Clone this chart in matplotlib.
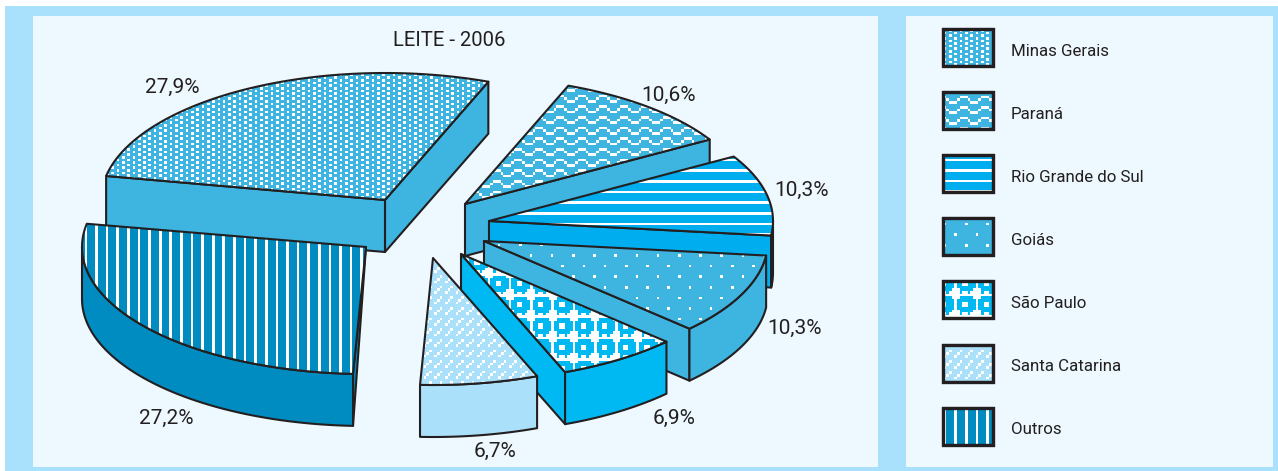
#!/usr/bin/env python3
"""Leite 2006: exploded pseudo-3D pie with pixel pattern fills, drawn in figure pixels."""

import numpy as np
import matplotlib
matplotlib.use("Agg")
import matplotlib.pyplot as plt
from matplotlib.colors import to_rgb
from matplotlib.patches import Polygon, Rectangle

STATES = ["Minas Gerais", "Paraná", "Rio Grande do Sul", "Goiás",
          "São Paulo", "Santa Catarina", "Outros"]
SHARES = [27.9, 10.6, 10.3, 10.3, 6.9, 6.7, 27.2]
SHARE_LABELS = ["27,9%", "10,6%", "10,3%", "10,3%", "6,9%", "6,7%", "27,2%"]
TITLE = "LEITE - 2006"

COLORS = ["#3db5e0", "#3db5e0", "#00aeef", "#3db5e0", "#00b9f2", "#abe0fa", "#008cc0"]
INK = "#231f20"
FRAME = "#a9e0fb"
PANEL = "#edf9fe"

# pie geometry, figure pixels
CENTER = (440, 240)
RX, RY = 284, 127
DEPTH = 52
START_ANGLE = 169.1
EXPLODE = [(-55, -40), (25, -36), (49, -19), (44, 1), (21, 14), (-7, 18), (-74, 7)]
LABEL_POS = [(172, 87), (669, 95), (802, 190), (795, 328), (674, 418), (495, 451), (166, 418)]
DRAW_ORDER = [0, 6, 1, 2, 3, 4, 5]

CELL = 2.65
# "#" marks the pale cell of each pattern tile
TILES = [
    ["#...",
     "..#.",
     "#...",
     "..#."],
    ["..###...",
     ".#...#..",
     "#.....##",
     "........"],
    ["#", ".", ".", "."],
    ["#.......",
     "........",
     "........",
     "........",
     "....#...",
     "........",
     "........",
     "........"],
    ["##.....#",
     "#.......",
     "#..##...",
     "#..##...",
     "#.......",
     "##.....#",
     "##.##.##",
     "########"],
    ["..#.",
     ".#..",
     "#...",
     "...."],
    ["#...", ],
]


def pattern_fill(pa, points, tile, color):
    """Fill a polygon with a repeated tile, anchored to the figure origin."""
    poly = Polygon(points, closed=True, facecolor="none", edgecolor=INK, linewidth=1.5,
                   joinstyle="round", zorder=pa.next_z())
    pa.ax.add_patch(poly)
    xs, ys = zip(*points)
    mask = np.array([[c == "#" for c in row] for row in tile])
    th, tw = mask.shape
    i0, i1 = int(min(ys) // (th * CELL)), int(max(ys) // (th * CELL)) + 1
    j0, j1 = int(min(xs) // (tw * CELL)), int(max(xs) // (tw * CELL)) + 1
    grid = np.tile(mask, (i1 - i0, j1 - j0))
    rgb = np.where(grid[..., None], np.ones(3), np.array(to_rgb(color)))
    im = pa.ax.imshow(rgb, extent=(j0 * tw * CELL, j1 * tw * CELL, i1 * th * CELL, i0 * th * CELL),
                      interpolation="nearest", aspect="auto", zorder=poly.get_zorder() - 0.5)
    im.set_clip_path(poly)


class PieAxes:
    def __init__(self, ax):
        self.ax = ax
        self.z = 1

    def next_z(self):
        self.z += 1
        return self.z

    def face(self, points, color):
        self.ax.add_patch(Polygon(points, closed=True, facecolor=color, edgecolor=INK,
                                  linewidth=1.5, joinstyle="round", zorder=self.next_z()))


def rim(cx, cy, angles):
    rad = np.radians(angles)
    return np.column_stack([cx + RX * np.cos(rad), cy - RY * np.sin(rad)])


def draw_wedge(pa, idx, t_hi, t_lo):
    cx = CENTER[0] + EXPLODE[idx][0]
    cy = CENTER[1] + EXPLODE[idx][1]
    color = COLORS[idx]
    down = np.array([0, DEPTH])
    apex = np.array([cx, cy], dtype=float)

    # side face on the clockwise end of the slice
    rim_lo = rim(cx, cy, [t_lo])[0]
    if np.cos(np.radians(t_lo)) > 0:
        pa.face([apex, rim_lo, rim_lo + down, apex + down], color)
    # side face on the counter-clockwise end
    rim_hi = rim(cx, cy, [t_hi])[0]
    if np.cos(np.radians(t_hi)) < 0:
        if np.sin(np.radians(t_hi)) < 0:
            pa.face([apex, rim_hi, rim_hi + down], color)
        else:
            pa.face([apex, rim_hi, rim_hi + down, apex + down], color)

    # outer wall, only the part that faces the viewer
    lo, hi = max(t_lo, -180), min(t_hi, 0)
    if hi > lo:
        arc = rim(cx, cy, np.linspace(lo, hi, 60))
        pa.face(np.vstack([arc, (arc + down)[::-1]]), color)

    arc = rim(cx, cy, np.linspace(t_hi, t_lo, 80))
    pattern_fill(pa, np.vstack([apex, arc]), TILES[idx], color)


plt.rcParams["font.family"] = ["Roboto", "DejaVu Sans"]

fig = plt.figure(figsize=(12.78, 4.71), dpi=100, facecolor="white")
ax = fig.add_axes([0, 0, 1, 1])
pa = PieAxes(ax)

ax.add_patch(Rectangle((5, 6), 1273, 465, facecolor=FRAME, edgecolor="none", zorder=0))
ax.add_patch(Rectangle((33, 16), 845, 451, facecolor=PANEL, edgecolor="none", zorder=0.5))
ax.add_patch(Rectangle((906, 16), 367, 451, facecolor=PANEL, edgecolor="none", zorder=0.5))

spans = np.array(SHARES) * 3.6
highs = START_ANGLE - np.concatenate([[0], np.cumsum(spans)[:-1]])
lows = highs - spans
for i in DRAW_ORDER:
    draw_wedge(pa, i, highs[i], lows[i])

for label, (x, y) in zip(SHARE_LABELS, LABEL_POS):
    ax.text(x, y, label, ha="center", va="center", fontsize=15, color=INK, zorder=100)
ax.text(449, 41, TITLE, ha="center", va="center", fontsize=14.6, color=INK, zorder=100)

# legend swatches
for i, state in enumerate(STATES):
    top = 29 + i * 63.1
    pts = [(943, top), (993, top), (993, top + 37), (943, top + 37)]
    pattern_fill(pa, pts, TILES[i], COLORS[i])
    ax.add_patch(Rectangle((943, top), 50, 37, facecolor="none", edgecolor=INK, linewidth=2.4, zorder=pa.next_z()))
    ax.text(1011, top + 22, state, ha="left", va="center", fontsize=12.2, color=INK, zorder=100)

ax.set_xlim(0, 1278)
ax.set_ylim(471, 0)
ax.axis("off")

fig.savefig("out.png", dpi=100, facecolor="white")
plt.close(fig)
